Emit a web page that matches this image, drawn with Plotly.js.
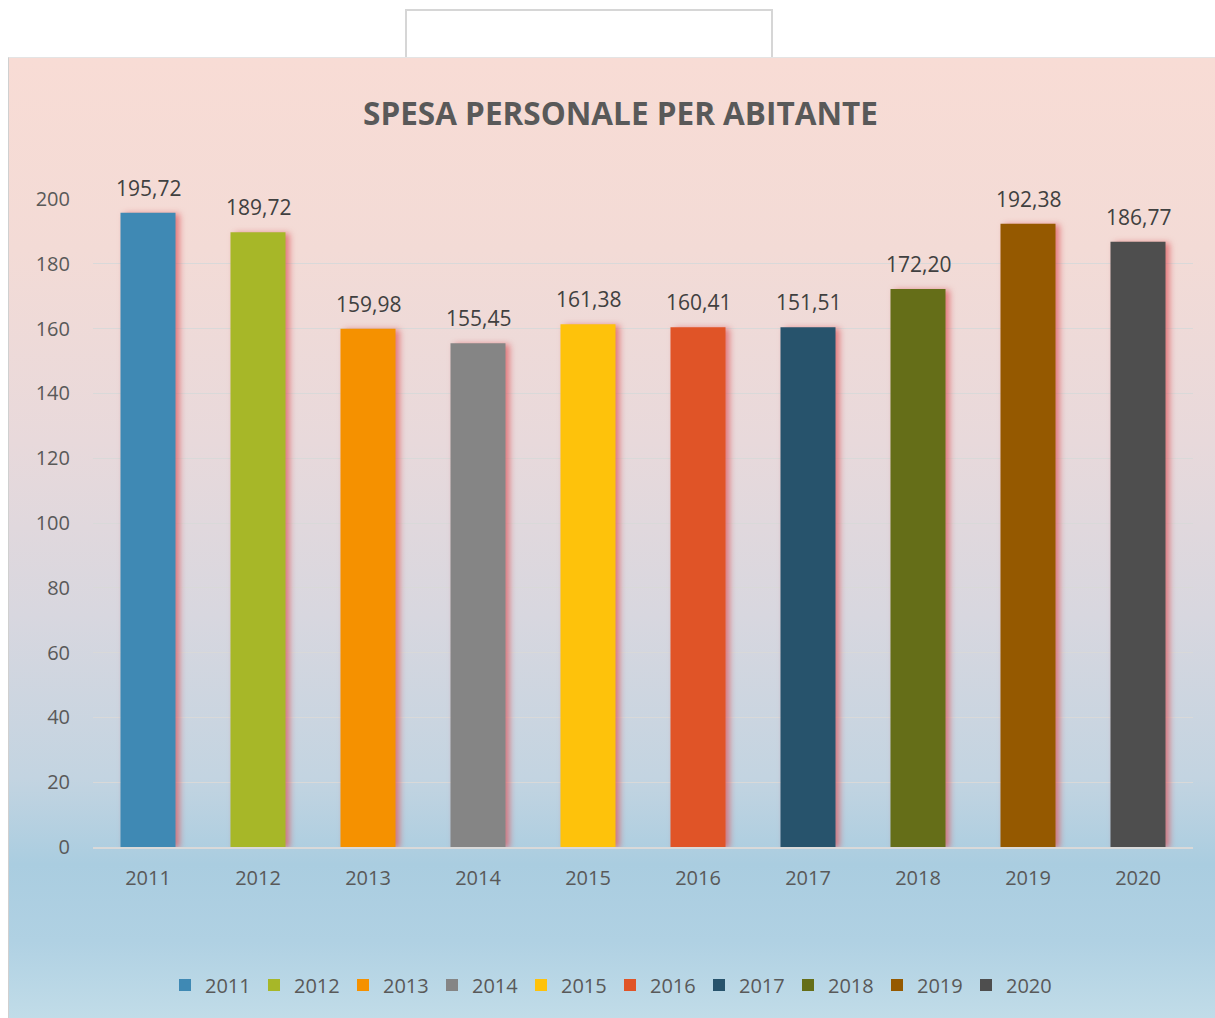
<!DOCTYPE html>
<html>
<head>
<meta charset="utf-8">
<script src="https://cdn.plot.ly/plotly-3.0.1.min.js"></script>
<style>
  html, body { margin:0; padding:0; background:#ffffff; width:1215px; height:1018px; overflow:hidden; }
  #panel { position:absolute; left:8px; top:57px; width:1207px; height:961px;
    background: linear-gradient(to bottom, #f8dcd5 0%, #f3dbd6 20%, #e8d9db 40%, #d8d7df 58%, #c3d4e1 75%, #aacde0 84%, #b0d1e3 92%, #c1dce8 100%);
    border-left:1px solid #d0d0d0; border-top:1px solid #e4e4e4; box-sizing:border-box; }
  #topbox { position:absolute; left:405px; top:9px; width:368px; height:50px; border:2px solid #d6d6d6; border-bottom:none; box-sizing:border-box; background:#fff; }
  #chart { position:absolute; left:0; top:0; width:1215px; height:1018px; }
  #chart .bars .point path { filter: drop-shadow(4px 1px 3px rgba(220,80,85,0.7)); }
</style>
</head>
<body>
<div id="topbox"></div>
<div id="panel"></div>
<div id="chart"></div>
<script>
const years = ["2011","2012","2013","2014","2015","2016","2017","2018","2019","2020"];
const values = [195.72, 189.72, 159.98, 155.45, 161.38, 160.41, 160.4, 172.20, 192.38, 186.77];
const labels = ["195,72","189,72","159,98","155,45","161,38","160,41","151,51","172,20","192,38","186,77"];
const colors = ["#3f89b4","#a7b728","#f59100","#858585","#fec20b","#e05427","#27536c","#656e18","#955900","#4e4e4e"];
const yTicks = [0,20,40,60,80,100,120,140,160,180,200];

const FONT = "'Open Sans', sans-serif";

const traces = years.map((yr, i) => ({
  type: 'bar',
  name: yr,
  x: [yr],
  y: [values[i]],
  width: 0.5,
  marker: { color: colors[i], line: { width: 0 } },
  hoverinfo: 'none'
}));

const annotations = years.map((yr, i) => ({
  x: i, y: values[i], xref: 'x', yref: 'y',
  text: labels[i], showarrow: false,
  yanchor: 'bottom', yshift: 9,
  font: { family: FONT, size: 21, color: '#404040' }
}));

const layout = {
  width: 1215, height: 1018,
  paper_bgcolor: 'rgba(0,0,0,0)',
  plot_bgcolor: 'rgba(0,0,0,0)',
  margin: { l: 93, r: 22, t: 199, b: 171 },
  barmode: 'overlay',
  showlegend: true,
  title: {
    text: '<b>SPESA PERSONALE PER ABITANTE</b>',
    font: { family: FONT, size: 31.5, color: '#595959' },
    xref: 'container', x: 620.5/1215, xanchor: 'center',
    yref: 'container', y: 1 - 114/1018, yanchor: 'middle'
  },
  xaxis: {
    type: 'category',
    categoryorder: 'array',
    categoryarray: years,
    range: [-0.5, years.length - 0.5],
    autorange: false,
    tickfont: { family: FONT, size: 20, color: '#595959' },
    showgrid: false,
    showline: true, linecolor: '#d9d9d9', linewidth: 2,
    ticks: '', ticklabelstandoff: 12,
    zeroline: false
  },
  yaxis: {
    range: [0, 200],
    autorange: false,
    tickvals: yTicks,
    ticktext: yTicks.map(String),
    tickfont: { family: FONT, size: 20, color: '#595959' },
    showgrid: true, gridcolor: '#d9d9d9', gridwidth: 1,
    zeroline: false, showline: false,
    ticks: '', ticklabelstandoff: 22
  },
  legend: {
    orientation: 'h',
    xref: 'container', yref: 'container',
    x: 610/1215, xanchor: 'center',
    y: 1 - 985/1018, yanchor: 'middle',
    font: { family: FONT, size: 20, color: '#595959' },
    bgcolor: 'rgba(0,0,0,0)',
    entrywidth: 44, entrywidthmode: 'pixels',
    itemclick: false, itemdoubleclick: false
  },
  annotations: annotations
};

Plotly.newPlot('chart', traces, layout, { displayModeBar: false, staticPlot: true });
</script>
</body>
</html>
